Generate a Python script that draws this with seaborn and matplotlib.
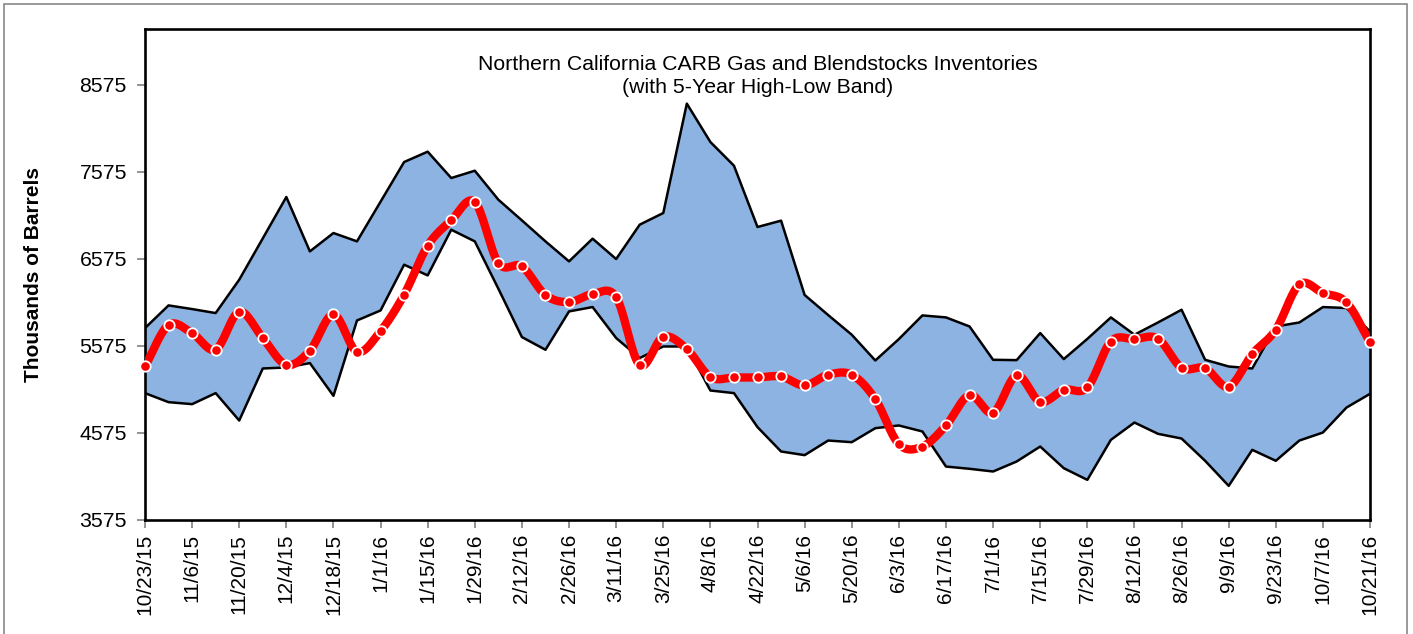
import numpy as np
import pandas as pd
import matplotlib
matplotlib.use('Agg')
import matplotlib.pyplot as plt
import seaborn as sns
from matplotlib.patches import Rectangle

# weekly values, 10/23/15 .. 10/21/16 (thousands of barrels)
inv_2016 = [5338, 5814, 5722, 5533, 5967, 5665, 5358, 5519, 5936, 5507,
            5745, 6163, 6726, 7017, 7229, 6527, 6488, 6159, 6078, 6170,
            6136, 5354, 5679, 5538, 5216, 5212, 5212, 5223, 5120, 5243,
            5243, 4963, 4445, 4418, 4660, 5009, 4806, 5235, 4932, 5070,
            5097, 5625, 5653, 5657, 5323, 5319, 5105, 5480, 5760, 6281,
            6182, 6074, 5618]
band_high = [5779, 6040, 5998, 5952, 6335, 6810, 7286, 6661, 6872, 6776,
             7232, 7688, 7807, 7504, 7588, 7255, 7017, 6776, 6546, 6807,
             6573, 6968, 7102, 8359, 7918, 7646, 6941, 7014, 6160, 5929,
             5703, 5407, 5653, 5925, 5902, 5798, 5415, 5411, 5722, 5423,
             5655, 5902, 5703, 5844, 5990, 5415, 5338, 5315, 5798, 5844,
             6021, 6010, 5740]
band_low = [5032, 4928, 4905, 5032, 4717, 5315, 5327, 5377, 5001, 5867,
            5982, 6508, 6385, 6910, 6776, 6232, 5676, 5530, 5971, 6021,
            5665, 5435, 5568, 5568, 5062, 5032, 4641, 4361, 4319, 4487,
            4468, 4629, 4660, 4591, 4188, 4162, 4131, 4246, 4418, 4169,
            4035, 4495, 4694, 4564, 4510, 4254, 3966, 4380, 4254, 4487,
            4579, 4866, 5024]
tick_labels = ['10/23/15', '11/6/15', '11/20/15', '12/4/15', '12/18/15',
               '1/1/16', '1/15/16', '1/29/16', '2/12/16', '2/26/16',
               '3/11/16', '3/25/16', '4/8/16', '4/22/16', '5/6/16',
               '5/20/16', '6/3/16', '6/17/16', '7/1/16', '7/15/16',
               '7/29/16', '8/12/16', '8/26/16', '9/9/16', '9/23/16',
               '10/7/16', '10/21/16']
y_ticks = [3575, 4575, 5575, 6575, 7575, 8575]

df = pd.DataFrame({'week': np.arange(len(inv_2016)), 'inv': inv_2016,
                   'high': band_high, 'low': band_low})

sns.set_style('ticks')
plt.rcParams['font.family'] = ['Liberation Sans', 'DejaVu Sans']
plt.rcParams['text.color'] = 'black'
plt.rcParams['axes.labelcolor'] = 'black'
plt.rcParams['xtick.labelcolor'] = 'black'
plt.rcParams['ytick.labelcolor'] = 'black'

fig = plt.figure(figsize=(14.13, 6.34), dpi=100)
ax = fig.add_axes([0.1026, 0.180, 0.8670, 0.774])

# band
ax.fill_between(df['week'], df['low'], df['high'], color='#8DB3E2', lw=0, zorder=1)
sns.lineplot(data=df, x='week', y='high', color='black', lw=1.8, ax=ax, zorder=2)
sns.lineplot(data=df, x='week', y='low', color='black', lw=1.8, ax=ax, zorder=2)

# smoothed line like Excel (Catmull-Rom between the weekly points), only for drawing
x = df['week'].to_numpy(float)
y = df['inv'].to_numpy(float)
xp = np.concatenate([[2 * x[0] - x[1]], x, [2 * x[-1] - x[-2]]])
yp = np.concatenate([[2 * y[0] - y[1]], y, [2 * y[-1] - y[-2]]])
sx, sy = [], []
t = np.linspace(0, 1, 20)
for i in range(1, len(xp) - 2):
    for arr, out in ((xp, sx), (yp, sy)):
        p0, p1, p2, p3 = arr[i - 1], arr[i], arr[i + 1], arr[i + 2]
        out.extend(0.5 * ((2 * p1) + (-p0 + p2) * t + (2 * p0 - 5 * p1 + 4 * p2 - p3) * t ** 2
                          + (-p0 + 3 * p1 - 3 * p2 + p3) * t ** 3))
smooth = pd.DataFrame({'week': sx, 'inv': sy})
sns.lineplot(data=smooth, x='week', y='inv', color='#FF0000', lw=6, ax=ax,
             sort=False, estimator=None, zorder=3)
ax.plot(df['week'], df['inv'], ls='none', marker='o', ms=7.5, mfc='#FF0000',
        mec='white', mew=1.3, zorder=4, clip_on=False)

ax.set_xlim(0, 52)
ax.set_ylim(3575, 9215)
ax.set_xticks(np.arange(0, 53, 2))
ax.set_xticklabels(tick_labels, rotation=90, fontsize=15)
ax.set_yticks(y_ticks)
ax.set_yticklabels([str(v) for v in y_ticks], fontsize=15.3)
ax.tick_params(axis='both', direction='out', length=6, width=1.2, color='#808080')
ax.tick_params(axis='y', pad=7)
ax.tick_params(axis='x', pad=4)
ax.set_xlabel('')
ax.set_ylabel('Thousands of Barrels', fontsize=15, fontweight='bold')
ax.yaxis.set_label_coords(-0.083, 0.5)
for s in ax.spines.values():
    s.set_visible(True)
    s.set_linewidth(1.9)
    s.set_color('black')

ax.text(0.5, 0.948, 'Northern California CARB Gas and Blendstocks Inventories\n(with 5-Year High-Low Band)',
        transform=ax.transAxes, ha='center', va='top', fontsize=15.3, linespacing=1.3)

fig.patches.append(Rectangle((0.0025, -0.02), 0.993, 1.0137, transform=fig.transFigure,
                             fill=False, edgecolor='#888888', lw=1.2))

fig.savefig('out.png', dpi=100)
